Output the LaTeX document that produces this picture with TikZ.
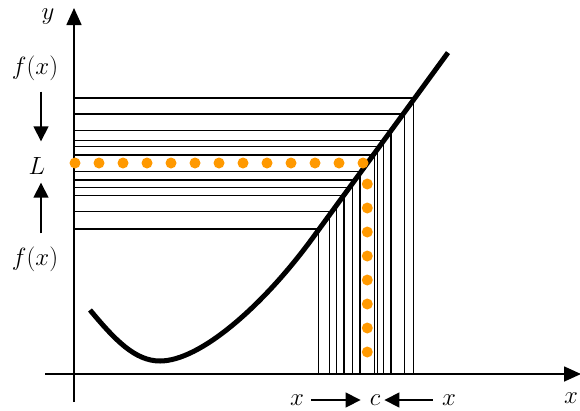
\documentclass[tikz,border=0pt]{standalone}
\usepackage{amsmath}
\usepackage{xcolor}
\usepackage{tikz}
\usetikzlibrary{arrows.meta, positioning, calc}
\definecolor{limitorange}{RGB}{255,153,0}

\begin{document}
\begin{tikzpicture}[x=1pt,y=-1pt,
  axis/.style={line width=1.6pt,-{Triangle[length=17pt,width=15pt]}},
  hatch/.style={line width=1.5pt},
  graph/.style={line width=5pt},
  lblarrow/.style={line width=1.6pt,-{Triangle[length=15pt,width=15pt]}},
  lbl/.style={font=\fontsize{27}{32}\selectfont,inner sep=2pt}]
  \useasboundingbox (0,0) rectangle (580,410);

  % Slope of the straight part of the graph, through (c,L)
  \def\slope{1.37}

  % Axes
  \coordinate (xstart) at (45,374);
  \coordinate (xend) at (581,374);
  \coordinate (ystart) at (74,402);
  \coordinate (yend) at (74,8);
  \draw[axis] (xstart) -- (xend);
  \draw[axis] (ystart) -- (yend);

  % Horizontal lines: values f(x) near L
  \foreach \h in {98,114,130.7,140.7,146.7,155,171.7,180,187.7,195.7,211.7,229}
    \draw[hatch] (74,\h) -- ({367.4+(163-\h)/\slope},\h);

  % Vertical lines: x near c
  \foreach \v in {318.5,329.3,336.7,344,352.3,360,374.3,377.5,383.7,391,404.7,413.3}
    \draw[hatch] (\v,374) -- (\v,{163-\slope*(\v-367.4)});

  % Graph of f
  \draw[graph] (90,310) .. controls (115,340) and (135,361) .. (160,361)
    .. controls (200,361) and (263,306) .. (313,237.5) -- (448,52.6);

  % Dotted guides to L and c
  \foreach \k in {0,...,12}
    \fill[limitorange] ({75+24*\k},163) circle (5.5pt);
  \foreach \k in {0,...,7}
    \fill[limitorange] (367.3,{184+24*\k}) circle (5.5pt);

  % Labels
  \node[lbl] (ylab) at (48,17) {$y$};
  \node[lbl] (xlab) at (571,398) {$x$};
  \node[lbl] (fxtop) at (35,68) {$f(x)$};
  \node[lbl] (Llab) at (37,166) {$L$};
  \node[lbl] (fxbot) at (35,259) {$f(x)$};
  \node[lbl] (xleft) at (297,400) {$x$};
  \node[lbl] (clab) at (375,400) {$c$};
  \node[lbl] (xright) at (449,400) {$x$};

  % Arrows towards L and c
  \draw[lblarrow,shorten <=9pt,shorten >=14pt] ([xshift=6pt]fxtop.south) -- ([xshift=4pt]Llab.north);
  \draw[lblarrow,shorten <=11pt,shorten >=6pt] ([xshift=6pt]fxbot.north) -- ([xshift=4pt]Llab.south);
  \draw[lblarrow,shorten <=5pt,shorten >=7pt] (xleft) -- (clab);
  \draw[lblarrow,shorten <=7pt,shorten >=2pt] (xright) -- (clab);
\end{tikzpicture}
\end{document}
